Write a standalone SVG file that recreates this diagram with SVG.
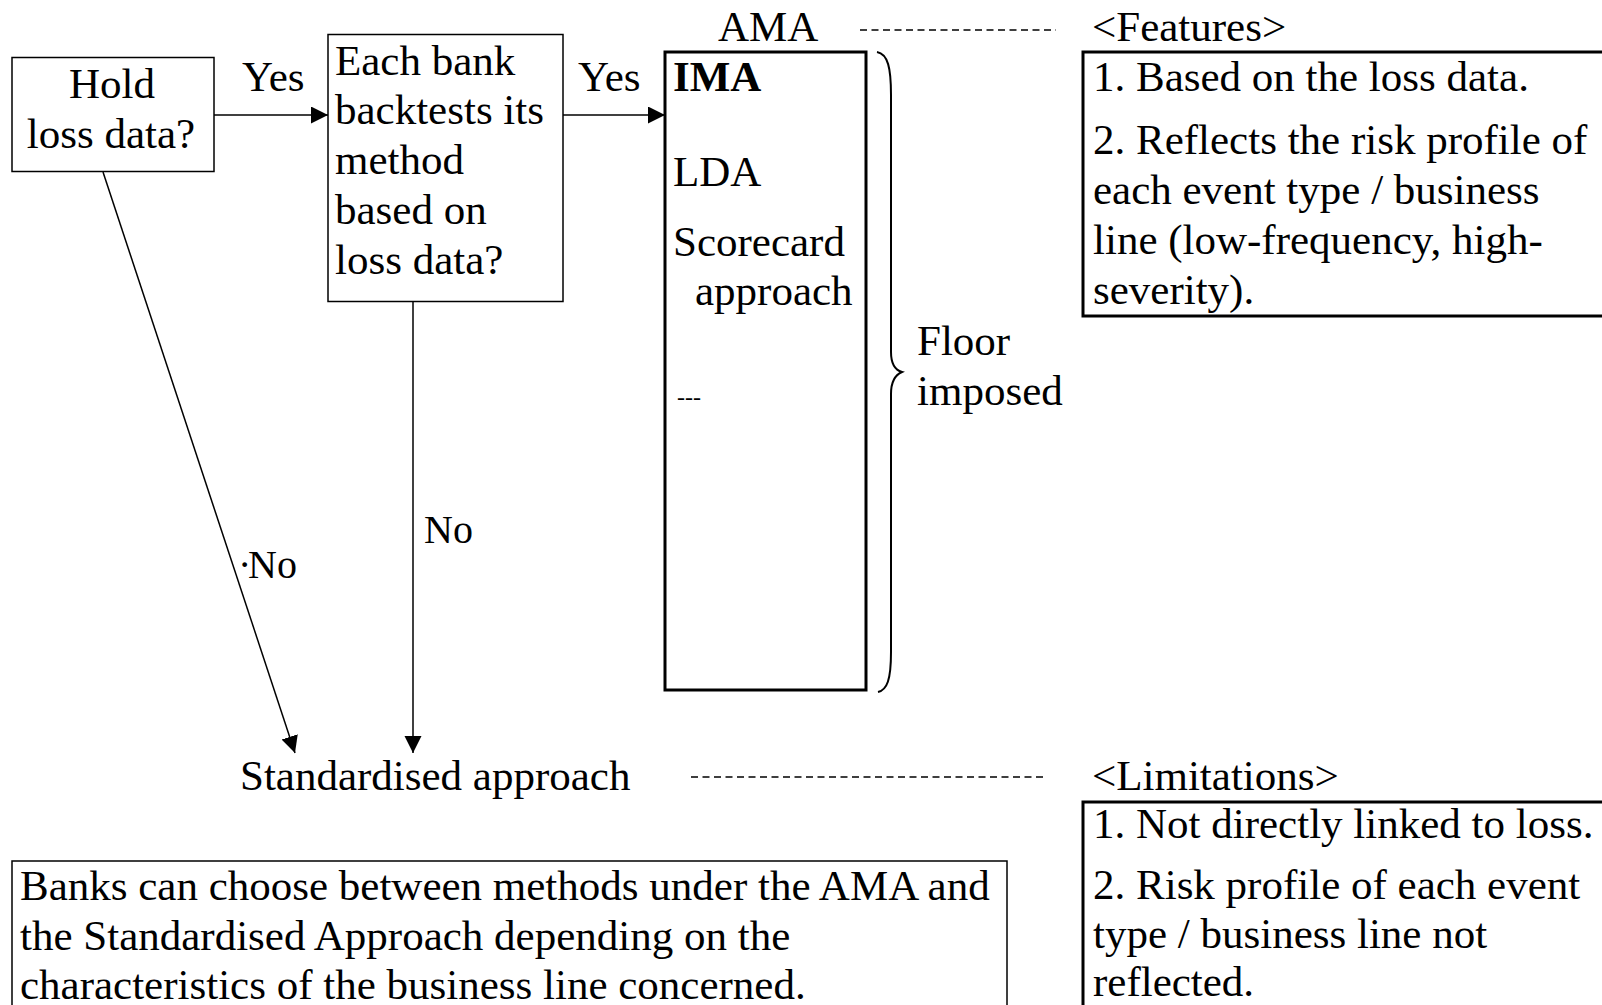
<svg xmlns="http://www.w3.org/2000/svg" width="1602" height="1005" viewBox="0 0 1602 1005">
<style>
text{font-family:"Liberation Serif","Times New Roman",serif;font-size:43px;fill:#000}
.thin{fill:#fff;stroke:#000;stroke-width:1.5}
.thick{fill:#fff;stroke:#000;stroke-width:3}
.conn{fill:none;stroke:#000;stroke-width:1.5}
.dash{fill:none;stroke:#000;stroke-width:1.3;stroke-dasharray:7 4.5}
text.no{font-size:40px}
text.small{font-size:24px}
</style>
<defs>
<marker id="ah" markerWidth="18" markerHeight="18" refX="17" refY="8.5" orient="auto" markerUnits="userSpaceOnUse">
<path d="M0,0 L17,8.5 L0,17 Z" fill="#000"/>
</marker>
</defs>
<rect width="1602" height="1005" fill="#fff"/>

<g id="connectors">
<line class="conn" x1="214" y1="115" x2="328" y2="115" marker-end="url(#ah)"/>
<line class="conn" x1="563" y1="115" x2="665" y2="115" marker-end="url(#ah)"/>
<line class="conn" x1="103" y1="172" x2="295" y2="753" marker-end="url(#ah)"/>
<line class="conn" x1="413" y1="302" x2="413" y2="753" marker-end="url(#ah)"/>
<line class="dash" x1="860" y1="30" x2="1056" y2="30"/>
<line class="dash" x1="691" y1="777" x2="1047" y2="777"/>
<text x="242" y="91">Yes</text>
<text x="578" y="91">Yes</text>
<text class="no" x="424" y="543">No</text>
<text class="no" x="238" y="578"><tspan x="238">·</tspan><tspan x="248">No</tspan></text>
</g>

<g id="hold">
<rect class="thin" x="12" y="57.5" width="202" height="114"/>
<text x="112" y="98" text-anchor="middle">Hold</text>
<text x="111" y="148" text-anchor="middle">loss data?</text>
</g>

<g id="backtest">
<rect class="thin" x="328" y="34.5" width="235" height="267"/>
<text x="335" y="75">Each bank</text>
<text x="335" y="124">backtests its</text>
<text x="335" y="174">method</text>
<text x="335" y="224">based on</text>
<text x="335" y="274">loss data?</text>
</g>

<g id="ama">
<text x="718" y="41">AMA</text>
<rect class="thick" x="665" y="52" width="201" height="638"/>
<text x="673" y="91" font-weight="bold">IMA</text>
<text x="673" y="186">LDA</text>
<text x="673" y="256">Scorecard</text>
<text x="695" y="305">approach</text>
<text class="small" x="677" y="405">---</text>
</g>

<g id="floor">
<path d="M877,52 C888,54 891,68 891,95 L891,352 C891,364 895,370 902,372 C895,375 891,382 891,394 L891,652 C891,680 887,690 878,692" fill="none" stroke="#000" stroke-width="2"/>
<text x="917" y="355">Floor</text>
<text x="917" y="405">imposed</text>
</g>

<g id="features">
<text x="1092" y="41">&lt;Features&gt;</text>
<rect class="thick" x="1083" y="52" width="540" height="264"/>
<text x="1093" y="91">1. Based on the loss data.</text>
<text x="1093" y="154">2. Reflects the risk profile of</text>
<text x="1093" y="204">each event type / business</text>
<text x="1093" y="254">line (low-frequency, high-</text>
<text x="1093" y="304">severity).</text>
</g>

<g id="standardised">
<text x="240" y="790">Standardised approach</text>
</g>

<g id="limitations">
<text x="1092" y="790">&lt;Limitations&gt;</text>
<rect class="thick" x="1083" y="802" width="540" height="230"/>
<text x="1093" y="838">1. Not directly linked to loss.</text>
<text x="1093" y="899">2. Risk profile of each event</text>
<text x="1093" y="948">type / business line not</text>
<text x="1093" y="996">reflected.</text>
</g>

<g id="note">
<rect class="thin" x="12" y="861" width="995" height="170"/>
<text x="20" y="900">Banks can choose between methods under the AMA and</text>
<text x="20" y="950">the Standardised Approach depending on the</text>
<text x="20" y="999">characteristics of the business line concerned.</text>
</g>
</svg>
